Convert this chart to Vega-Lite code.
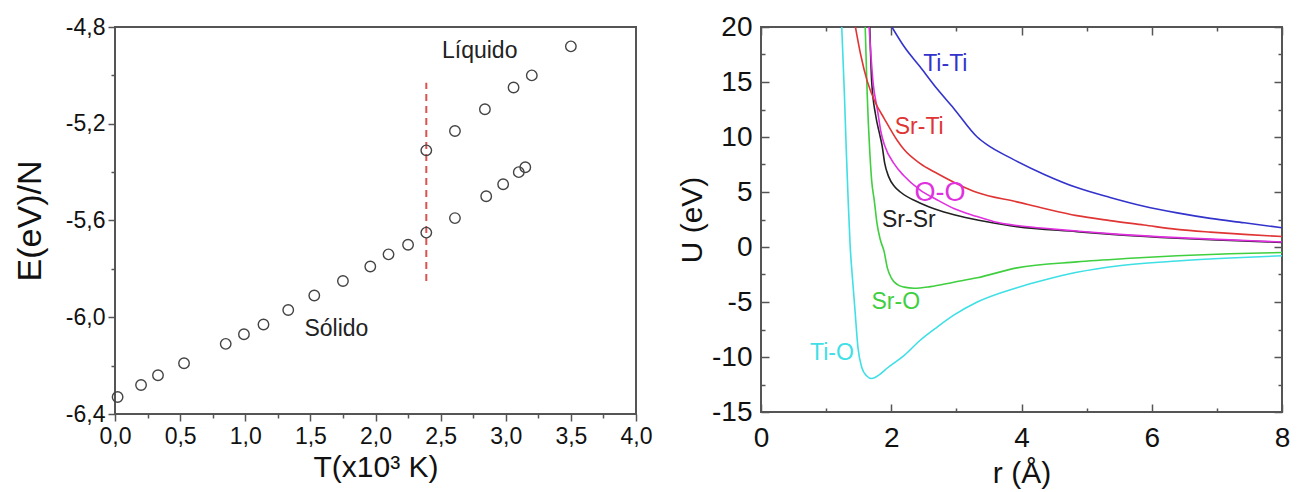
{
  "$schema": "https://vega.github.io/schema/vega-lite/v6.json",
  "padding": {"left": 12, "top": 12, "right": 5, "bottom": 5},
  "background": "white",
  "config": {
    "font": "Liberation Sans",
    "view": {"stroke": "#555555", "strokeWidth": 2},
    "axis": {"grid": false, "domain": false, "labelOverlap": false, "labelBound": false, "labelFlush": false, "tickColor": "#555555", "tickWidth": 1.5, "labelColor": "#111111", "titleColor": "#111111", "titleFontWeight": "normal"}
  },
  "datasets": {
    "energy": [
      {"T": 0.02, "E": -6.33, "phase": "solid"},
      {"T": 0.20, "E": -6.28, "phase": "solid"},
      {"T": 0.33, "E": -6.24, "phase": "solid"},
      {"T": 0.53, "E": -6.19, "phase": "solid"},
      {"T": 0.85, "E": -6.11, "phase": "solid"},
      {"T": 0.99, "E": -6.07, "phase": "solid"},
      {"T": 1.14, "E": -6.03, "phase": "solid"},
      {"T": 1.33, "E": -5.97, "phase": "solid"},
      {"T": 1.53, "E": -5.91, "phase": "solid"},
      {"T": 1.75, "E": -5.85, "phase": "solid"},
      {"T": 1.96, "E": -5.79, "phase": "solid"},
      {"T": 2.10, "E": -5.74, "phase": "solid"},
      {"T": 2.25, "E": -5.70, "phase": "solid"},
      {"T": 2.39, "E": -5.65, "phase": "solid"},
      {"T": 2.61, "E": -5.59, "phase": "solid"},
      {"T": 2.85, "E": -5.50, "phase": "solid"},
      {"T": 2.98, "E": -5.45, "phase": "solid"},
      {"T": 3.10, "E": -5.40, "phase": "solid"},
      {"T": 3.15, "E": -5.38, "phase": "solid"},
      {"T": 2.39, "E": -5.31, "phase": "liquid"},
      {"T": 2.61, "E": -5.23, "phase": "liquid"},
      {"T": 2.84, "E": -5.14, "phase": "liquid"},
      {"T": 3.06, "E": -5.05, "phase": "liquid"},
      {"T": 3.20, "E": -5.00, "phase": "liquid"},
      {"T": 3.50, "E": -4.88, "phase": "liquid"}
    ],
    "melting": [{"T": 2.39, "E": -5.85, "E2": -5.03}],
    "phaseLabels": [
      {"T": 2.80, "E": -4.90, "label": "Líquido"},
      {"T": 1.70, "E": -6.05, "label": "Sólido"}
    ],
    "curves": [
      {"pair": "Ti-O", "r": 1.24, "U": 20},
      {"pair": "Ti-O", "r": 1.28, "U": 14},
      {"pair": "Ti-O", "r": 1.31, "U": 8.7},
      {"pair": "Ti-O", "r": 1.34, "U": 4},
      {"pair": "Ti-O", "r": 1.37, "U": 0},
      {"pair": "Ti-O", "r": 1.40, "U": -2.5},
      {"pair": "Ti-O", "r": 1.44, "U": -5.5},
      {"pair": "Ti-O", "r": 1.49, "U": -9.2},
      {"pair": "Ti-O", "r": 1.55, "U": -11.0},
      {"pair": "Ti-O", "r": 1.62, "U": -11.7},
      {"pair": "Ti-O", "r": 1.70, "U": -11.95},
      {"pair": "Ti-O", "r": 1.82, "U": -11.6},
      {"pair": "Ti-O", "r": 1.94, "U": -11.0},
      {"pair": "Ti-O", "r": 2.19, "U": -9.9},
      {"pair": "Ti-O", "r": 2.44, "U": -8.5},
      {"pair": "Ti-O", "r": 2.70, "U": -7.3},
      {"pair": "Ti-O", "r": 2.96, "U": -6.2},
      {"pair": "Ti-O", "r": 3.32, "U": -5.0},
      {"pair": "Ti-O", "r": 3.93, "U": -3.7},
      {"pair": "Ti-O", "r": 4.35, "U": -3.0},
      {"pair": "Ti-O", "r": 4.85, "U": -2.3},
      {"pair": "Ti-O", "r": 5.50, "U": -1.7},
      {"pair": "Ti-O", "r": 6.39, "U": -1.27},
      {"pair": "Ti-O", "r": 7.20, "U": -1.0},
      {"pair": "Ti-O", "r": 8.00, "U": -0.8},
      {"pair": "Sr-O", "r": 1.60, "U": 20},
      {"pair": "Sr-O", "r": 1.63, "U": 14},
      {"pair": "Sr-O", "r": 1.67, "U": 8.7},
      {"pair": "Sr-O", "r": 1.70, "U": 6.0},
      {"pair": "Sr-O", "r": 1.74, "U": 4.2},
      {"pair": "Sr-O", "r": 1.78, "U": 2.2},
      {"pair": "Sr-O", "r": 1.83, "U": 0.7},
      {"pair": "Sr-O", "r": 1.89, "U": -0.4},
      {"pair": "Sr-O", "r": 1.94, "U": -1.9},
      {"pair": "Sr-O", "r": 2.00, "U": -2.8},
      {"pair": "Sr-O", "r": 2.09, "U": -3.4},
      {"pair": "Sr-O", "r": 2.20, "U": -3.65},
      {"pair": "Sr-O", "r": 2.35, "U": -3.75},
      {"pair": "Sr-O", "r": 2.60, "U": -3.6},
      {"pair": "Sr-O", "r": 2.96, "U": -3.2},
      {"pair": "Sr-O", "r": 3.32, "U": -2.8},
      {"pair": "Sr-O", "r": 3.93, "U": -1.9},
      {"pair": "Sr-O", "r": 4.85, "U": -1.35},
      {"pair": "Sr-O", "r": 5.60, "U": -1.05},
      {"pair": "Sr-O", "r": 6.39, "U": -0.8},
      {"pair": "Sr-O", "r": 7.20, "U": -0.62},
      {"pair": "Sr-O", "r": 8.00, "U": -0.5},
      {"pair": "Sr-Sr", "r": 1.67, "U": 20},
      {"pair": "Sr-Sr", "r": 1.70, "U": 15},
      {"pair": "Sr-Sr", "r": 1.76, "U": 12},
      {"pair": "Sr-Sr", "r": 1.82, "U": 10.3},
      {"pair": "Sr-Sr", "r": 1.86, "U": 9.2},
      {"pair": "Sr-Sr", "r": 1.90, "U": 7.6},
      {"pair": "Sr-Sr", "r": 1.96, "U": 6.4},
      {"pair": "Sr-Sr", "r": 2.05, "U": 5.5},
      {"pair": "Sr-Sr", "r": 2.14, "U": 5.0},
      {"pair": "Sr-Sr", "r": 2.44, "U": 4.0},
      {"pair": "Sr-Sr", "r": 2.75, "U": 3.3},
      {"pair": "Sr-Sr", "r": 3.06, "U": 2.8},
      {"pair": "Sr-Sr", "r": 3.47, "U": 2.3},
      {"pair": "Sr-Sr", "r": 3.93, "U": 1.85},
      {"pair": "Sr-Sr", "r": 4.85, "U": 1.4},
      {"pair": "Sr-Sr", "r": 5.50, "U": 1.1},
      {"pair": "Sr-Sr", "r": 6.39, "U": 0.8},
      {"pair": "Sr-Sr", "r": 7.20, "U": 0.6},
      {"pair": "Sr-Sr", "r": 8.00, "U": 0.42},
      {"pair": "O-O", "r": 1.66, "U": 20},
      {"pair": "O-O", "r": 1.72, "U": 15},
      {"pair": "O-O", "r": 1.79, "U": 12.4},
      {"pair": "O-O", "r": 1.84, "U": 10.5},
      {"pair": "O-O", "r": 1.90, "U": 9.2},
      {"pair": "O-O", "r": 2.04, "U": 7.6},
      {"pair": "O-O", "r": 2.19, "U": 6.5},
      {"pair": "O-O", "r": 2.44, "U": 5.2},
      {"pair": "O-O", "r": 2.70, "U": 4.3},
      {"pair": "O-O", "r": 2.96, "U": 3.5},
      {"pair": "O-O", "r": 3.30, "U": 2.8},
      {"pair": "O-O", "r": 3.58, "U": 2.3},
      {"pair": "O-O", "r": 3.93, "U": 1.95},
      {"pair": "O-O", "r": 4.35, "U": 1.7},
      {"pair": "O-O", "r": 4.85, "U": 1.45},
      {"pair": "O-O", "r": 5.50, "U": 1.15},
      {"pair": "O-O", "r": 6.39, "U": 0.85},
      {"pair": "O-O", "r": 7.20, "U": 0.65},
      {"pair": "O-O", "r": 8.00, "U": 0.45},
      {"pair": "Sr-Ti", "r": 1.45, "U": 20},
      {"pair": "Sr-Ti", "r": 1.53, "U": 17.5},
      {"pair": "Sr-Ti", "r": 1.63, "U": 15.1},
      {"pair": "Sr-Ti", "r": 1.75, "U": 13.2},
      {"pair": "Sr-Ti", "r": 1.89, "U": 11.7},
      {"pair": "Sr-Ti", "r": 2.09, "U": 9.7},
      {"pair": "Sr-Ti", "r": 2.19, "U": 8.9},
      {"pair": "Sr-Ti", "r": 2.44, "U": 7.6},
      {"pair": "Sr-Ti", "r": 2.70, "U": 6.7},
      {"pair": "Sr-Ti", "r": 3.06, "U": 5.6},
      {"pair": "Sr-Ti", "r": 3.32, "U": 4.95},
      {"pair": "Sr-Ti", "r": 3.93, "U": 4.1},
      {"pair": "Sr-Ti", "r": 4.35, "U": 3.5},
      {"pair": "Sr-Ti", "r": 4.85, "U": 2.85},
      {"pair": "Sr-Ti", "r": 5.36, "U": 2.4},
      {"pair": "Sr-Ti", "r": 5.88, "U": 2.0},
      {"pair": "Sr-Ti", "r": 6.39, "U": 1.6},
      {"pair": "Sr-Ti", "r": 6.90, "U": 1.35},
      {"pair": "Sr-Ti", "r": 7.42, "U": 1.15},
      {"pair": "Sr-Ti", "r": 8.00, "U": 0.95},
      {"pair": "Ti-Ti", "r": 2.01, "U": 20},
      {"pair": "Ti-Ti", "r": 2.20, "U": 18.2},
      {"pair": "Ti-Ti", "r": 2.44, "U": 16.4},
      {"pair": "Ti-Ti", "r": 2.70, "U": 14.4},
      {"pair": "Ti-Ti", "r": 2.96, "U": 12.6},
      {"pair": "Ti-Ti", "r": 3.32, "U": 10.0},
      {"pair": "Ti-Ti", "r": 3.47, "U": 9.3},
      {"pair": "Ti-Ti", "r": 3.83, "U": 8.1},
      {"pair": "Ti-Ti", "r": 4.35, "U": 6.6},
      {"pair": "Ti-Ti", "r": 4.85, "U": 5.4},
      {"pair": "Ti-Ti", "r": 5.36, "U": 4.5},
      {"pair": "Ti-Ti", "r": 5.88, "U": 3.7},
      {"pair": "Ti-Ti", "r": 6.39, "U": 3.1},
      {"pair": "Ti-Ti", "r": 6.90, "U": 2.6},
      {"pair": "Ti-Ti", "r": 7.42, "U": 2.2},
      {"pair": "Ti-Ti", "r": 8.00, "U": 1.75}
    ],
    "pairLabels": [
      {"pair": "Ti-Ti", "r": 2.83, "U": 16.6},
      {"pair": "Sr-Ti", "r": 2.43, "U": 10.9},
      {"pair": "O-O", "r": 2.75, "U": 4.9},
      {"pair": "Sr-Sr", "r": 2.27, "U": 2.5},
      {"pair": "Sr-O", "r": 2.07, "U": -5.0},
      {"pair": "Ti-O", "r": 1.09, "U": -9.6}
    ]
  },
  "hconcat": [
    {
      "width": 521,
      "height": 387,
      "encoding": {
        "x": {
          "field": "T", "type": "quantitative",
          "scale": {"domain": [0, 4], "nice": false, "zero": false},
          "axis": {
            "title": "T(x10³ K)",
            "values": [0, 0.25, 0.5, 0.75, 1, 1.25, 1.5, 1.75, 2, 2.25, 2.5, 2.75, 3, 3.25, 3.5, 3.75, 4],
            "labelExpr": "abs(datum.value*2 - round(datum.value*2)) < 0.001 ? replace(format(datum.value, '.1f'), '.', ',') : ''",
            "tickSize": {"condition": {"test": "abs(datum.value*2 - round(datum.value*2)) < 0.001", "value": 7}, "value": 4},
            "labelFontSize": 23, "titleFontSize": 30, "labelPadding": 4, "titlePadding": 4
          }
        },
        "y": {
          "field": "E", "type": "quantitative",
          "scale": {"domain": [-6.4, -4.8], "nice": false, "zero": false},
          "axis": {
            "title": "E(eV)/N",
            "values": [-6.4, -6.2, -6.0, -5.8, -5.6, -5.4, -5.2, -5.0, -4.8],
            "labelExpr": "abs(datum.value/0.4 - round(datum.value/0.4)) < 0.001 ? replace(replace(format(datum.value, '.1f'), '.', ','), '\u2212', '-') : ''",
            "tickSize": {"condition": {"test": "abs(datum.value/0.4 - round(datum.value/0.4)) < 0.001", "value": 7}, "value": 4},
            "labelFontSize": 23, "titleFontSize": 34, "labelPadding": 3, "titlePadding": 18
          }
        }
      },
      "layer": [
        {
          "data": {"name": "melting"},
          "mark": {"type": "rule", "color": "#d9534f", "strokeDash": [7, 5], "strokeWidth": 2},
          "encoding": {"y2": {"field": "E2"}}
        },
        {
          "data": {"name": "energy"},
          "mark": {"type": "point", "shape": "circle", "filled": false, "stroke": "#444444", "strokeWidth": 1.4, "size": 110, "opacity": 1}
        },
        {
          "data": {"name": "phaseLabels"},
          "mark": {"type": "text", "fontSize": 23, "color": "#222222"},
          "encoding": {"text": {"field": "label"}}
        }
      ]
    },
    {
      "width": 521,
      "height": 385,
      "resolve": {"axis": {"x": "independent", "y": "independent"}},
      "layer": [
        {
          "mark": {"type": "rule", "color": "#555555", "strokeWidth": 2},
          "encoding": {"y": {"datum": 0, "type": "quantitative", "axis": null}}
        },
        {
          "data": {"name": "curves"},
          "mark": {"type": "line", "strokeWidth": 1.6, "interpolate": "monotone", "clip": true},
          "encoding": {
            "x": {
              "field": "r", "type": "quantitative",
              "scale": {"domain": [0, 8], "nice": false, "zero": false},
              "axis": {
                "orient": "bottom", "title": "r (Å)",
                "values": [0, 1, 2, 3, 4, 5, 6, 7, 8],
                "labelExpr": "datum.value % 2 === 0 ? format(datum.value, 'd') : ''",
                "tickSize": {"condition": {"test": "datum.value % 2 === 0", "value": -8}, "value": -4},
                "labelFontSize": 28, "titleFontSize": 30, "labelPadding": 20, "titlePadding": 2
              }
            },
            "y": {
              "field": "U", "type": "quantitative",
              "scale": {"domain": [-15, 20], "nice": false, "zero": false},
              "axis": {
                "orient": "left", "title": "U (eV)",
                "values": [-15, -12.5, -10, -7.5, -5, -2.5, 0, 2.5, 5, 7.5, 10, 12.5, 15, 17.5, 20],
                "labelExpr": "datum.value % 5 === 0 ? replace(format(datum.value, 'd'), '\u2212', '-') : ''",
                "tickSize": {"condition": {"test": "datum.value % 5 === 0", "value": -8}, "value": -4},
                "labelFontSize": 28, "titleFontSize": 30, "labelPadding": 17, "titlePadding": 4
              }
            },
            "color": {
              "field": "pair", "type": "nominal", "legend": null,
              "scale": {"domain": ["Ti-Ti", "Sr-Ti", "O-O", "Sr-Sr", "Sr-O", "Ti-O"], "range": ["#3333cc", "#e03535", "#e030e0", "#222222", "#3fcf3f", "#3fdfe6"]}
            }
          }
        },
        {
          "data": {"name": "pairLabels"},
          "mark": {"type": "text"},
          "encoding": {
            "x": {
              "field": "r", "type": "quantitative",
              "axis": {
                "orient": "top", "title": null, "labels": false,
                "values": [0, 1, 2, 3, 4, 5, 6, 7, 8],
                "tickSize": {"condition": {"test": "datum.value % 2 === 0", "value": -8}, "value": -4}
              }
            },
            "y": {
              "field": "U", "type": "quantitative",
              "axis": {
                "orient": "right", "title": null, "labels": false,
                "values": [-15, -12.5, -10, -7.5, -5, -2.5, 0, 2.5, 5, 7.5, 10, 12.5, 15, 17.5, 20],
                "tickSize": {"condition": {"test": "datum.value % 5 === 0", "value": -8}, "value": -4}
              }
            },
            "text": {"field": "pair"},
            "color": {"field": "pair", "type": "nominal", "legend": null},
            "size": {"condition": {"test": "datum.pair === 'O-O'", "value": 27}, "value": 23}
          }
        }
      ]
    }
  ],
  "spacing": 125,
  "bounds": "flush"
}
